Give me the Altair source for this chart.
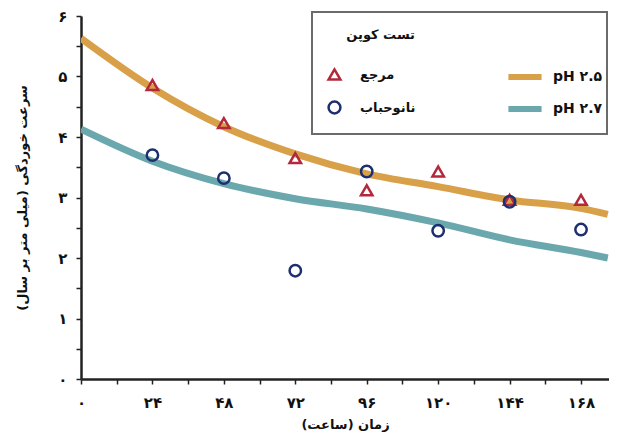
import altair as alt
import pandas as pd

# ---- data ----
hours = [24, 48, 72, 96, 120, 144, 168]
ref_rate = [4.86, 4.23, 3.65, 3.12, 3.43, 2.96, 2.96]     # مرجع (triangles)
nano_rate = [3.70, 3.32, 1.79, 3.43, 2.45, 2.93, 2.47]    # نانوحباب (circles)
series_names = ["مرجع", "نانوحباب"]
series_shapes = ["triangle-up", "circle"]
series_colors = ["#b3283a", "#1d2f6e"]

fit_hours = [0, 24, 48, 72, 96, 120, 144, 168, 177]
fit_ph25 = [5.63, 4.81, 4.17, 3.72, 3.39, 3.18, 2.96, 2.82, 2.72]
fit_ph27 = [4.13, 3.60, 3.23, 2.98, 2.81, 2.58, 2.30, 2.09, 2.00]
fit_names = ["pH ۲.۵", "pH ۲.۷"]
fit_colors = ["#d9a04a", "#6aa8ae"]

y_ticks = [0, 0.5, 1, 1.5, 2, 2.5, 3, 3.5, 4, 4.5, 5, 5.5, 6]
y_tick_labels = ["۰", "۱", "۲", "۳", "۴", "۵", "۶"]
x_ticks = [0, 12, 24, 36, 48, 60, 72, 84, 96, 108, 120, 132, 144, 156, 168]
x_tick_labels = ["۰", "۲۴", "۴۸", "۷۲", "۹۶", "۱۲۰", "۱۴۴", "۱۶۸"]

x_title = "زمان (ساعت)\u200f"
y_title = "\u200fسرعت خوردگی (میلی متر بر سال)\u200f"
legend_title = "تست کوپن"

FONT = "DejaVu Sans"
PLOT_W, PLOT_H = 528, 363

pts = pd.DataFrame({
    "hour": hours * 2,
    "rate": ref_rate + nano_rate,
    "test": [series_names[0]] * len(hours) + [series_names[1]] * len(hours),
})
fits = pd.DataFrame({
    "hour": fit_hours * 2,
    "rate": fit_ph25 + fit_ph27,
    "ph": [fit_names[0]] * len(fit_hours) + [fit_names[1]] * len(fit_hours),
})

y_expr = "datum.value % 1 == 0 ? " + str(y_tick_labels) + "[datum.value] : ''"
x_expr = "datum.value % 24 == 0 ? " + str(x_tick_labels) + "[datum.value / 24] : ''"

x_enc = alt.X(
    "hour:Q",
    scale=alt.Scale(domain=[0, 177.4], nice=False, zero=False),
    axis=alt.Axis(
        title=x_title, values=x_ticks, labelExpr=x_expr,
        grid=False, domainColor="#222", domainWidth=2.5,
        tickColor="#222", tickWidth=1.5, tickSize=5,
        labelFont=FONT, labelFontSize=15, labelFontWeight="bold", labelColor="#111",
        labelPadding=11, labelFlush=False,
        titleFont=FONT, titleFontSize=13, titleFontWeight="bold", titleColor="#111",
        titlePadding=8,
    ),
)
y_enc = alt.Y(
    "rate:Q",
    scale=alt.Scale(domain=[0, 6], nice=False),
    axis=alt.Axis(
        title=y_title, values=y_ticks, labelExpr=y_expr,
        grid=False, domainColor="#222", domainWidth=2.5,
        tickColor="#222", tickWidth=1.5, tickSize=5,
        labelFont=FONT, labelFontSize=15, labelFontWeight="bold", labelColor="#111",
        labelPadding=9,
        titleFont=FONT, titleFontSize=13, titleFontWeight="bold", titleColor="#111",
        titleAngle=-90, titleX=-59, titleY=PLOT_H / 2, titleAlign="center", titleBaseline="middle",
    ),
)

box = alt.Chart(pd.DataFrame({"a": [0]})).mark_rect(
    fill="white", stroke="#6b6b6b", strokeWidth=2
).encode(x=alt.value(231), x2=alt.value(526), y=alt.value(-4), y2=alt.value(118))

lines = alt.Chart(fits).mark_line(
    strokeWidth=7, interpolate="monotone", clip=True, strokeCap="butt"
).encode(
    x=x_enc, y=y_enc,
    color=alt.Color(
        "ph:N",
        scale=alt.Scale(domain=fit_names, range=fit_colors),
        legend=alt.Legend(
            title=None, orient="none", legendX=424, legendY=41,
            symbolType="stroke", symbolStrokeWidth=6, symbolSize=1100,
            labelFont=FONT, labelFontSize=14, labelFontWeight="bold", labelColor="#111",
            labelOffset=8, rowPadding=-5,
        ),
    ),
)

pt_legend = alt.Legend(
    title=legend_title, orient="none", legendX=246, legendY=13,
    titleFont=FONT, titleFontSize=13, titleFontWeight="bold", titleColor="#111",
    titleAnchor="end", titlePadding=25,
    labelFont=FONT, labelFontSize=13, labelFontWeight="bold", labelColor="#111",
    symbolSize=140, symbolStrokeWidth=2.5, labelOffset=18, rowPadding=11,
)

points = alt.Chart(pts).mark_point(filled=False, strokeWidth=2.5, size=130, opacity=1).encode(
    x=x_enc, y=y_enc,
    shape=alt.Shape("test:N", scale=alt.Scale(domain=series_names, range=series_shapes), legend=pt_legend),
    stroke=alt.Stroke("test:N", scale=alt.Scale(domain=series_names, range=series_colors), legend=pt_legend),
)

chart = alt.layer(box, lines, points).properties(
    width=PLOT_W, height=PLOT_H,
    autosize=alt.AutoSizeParams(type="none"),
    padding={"left": 73, "top": 8, "right": 0, "bottom": 55},
    background="white",
).configure_view(stroke=None)

chart.save("out.html", embed_options={"renderer": "svg", "actions": False})
